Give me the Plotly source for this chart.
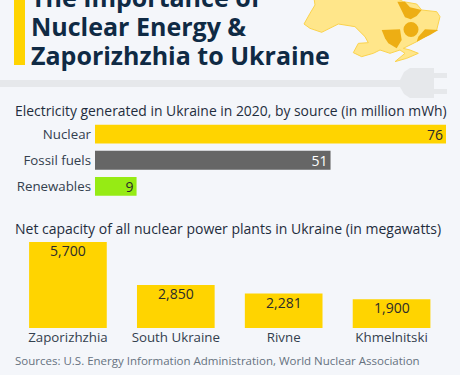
import plotly.graph_objects as go

sources = ["Nuclear", "Fossil fuels", "Renewables"]
source_values = [76, 51, 9]
source_colors = ["#FFD400", "#666666", "#96EB14"]
source_text_colors = ["#2b2b2b", "#ffffff", "#2b2b2b"]
plants = ["Zaporizhzhia", "South Ukraine", "Rivne", "Khmelnitski"]
plant_values = [5700, 2850, 2281, 1900]
plant_labels = ["5,700", "2,850", "2,281", "1,900"]

W, H = 460, 375
BG = "#F4F6FA"
FONT = "Open Sans"
NAVY = "#0F2A44"
TXT = "#33404E"

def px(x): return x / W
def py(y): return 1 - y / H
def path(pts):
    return "M " + " L ".join(f"{px(x):.4f},{py(y):.4f}" for x, y in pts) + " Z"
def z(pts):
    return [(290 + a / 3, b / 3) for a, b in pts]

fig = go.Figure()
fig.add_trace(go.Bar(
    y=sources, x=source_values, orientation="h", xaxis="x", yaxis="y",
    marker=dict(color=source_colors, line_width=0),
    text=[str(v) for v in source_values], textposition="inside", insidetextanchor="end",
    textangle=0, constraintext="none",
    textfont=dict(family=FONT, size=14, color=source_text_colors), width=0.72,
    hoverinfo="skip"))
fig.add_trace(go.Bar(
    x=plants, y=plant_values, xaxis="x2", yaxis="y2",
    marker=dict(color="#FFD400", line_width=0), width=0.72,
    hoverinfo="skip"))

ukraine = z([(72,-5),(75,15),(60,40),(42,72),(60,85),(95,97),(145,72),(195,80),(225,110),(235,128),
             (205,130),(190,158),(215,170),(250,160),(270,150),(300,160),(330,150),(345,160),(315,185),
             (350,175),(385,160),(360,150),(340,145),(380,125),(440,90),(450,50),(440,35),(395,30),
             (380,12),(340,5),(320,-5)])
sec_top = z([(322,5),(345,5),(360,22),(395,30),(380,48),(362,58),(345,52)])
sec_left = z([(275,90),(330,88),(335,120),(320,145),(295,130),(285,115)])
sec_right = z([(380,125),(385,110),(405,88),(445,90),(420,105),(400,115)])

shapes = [
    dict(type="path", path=path(ukraine), fillcolor="#FFE68A", line=dict(color="#FBD34D", width=1)),
    dict(type="path", path=path(sec_top), fillcolor="#EDAE14", line_width=0),
    dict(type="path", path=path(sec_left), fillcolor="#EDAE14", line_width=0),
    dict(type="path", path=path(sec_right), fillcolor="#EDAE14", line_width=0),
    dict(type="circle", x0=px(403.5), x1=px(418.5), y0=py(37), y1=py(22), fillcolor="#EDAE14", line_width=0),
    dict(type="rect", x0=px(14), x1=px(25), y0=py(65), y1=py(-2), fillcolor="#FFD400", line_width=0),
    dict(type="rect", x0=0, x1=px(405), y0=py(87), y1=py(80), fillcolor="#E6E8EB", line_width=0),
    dict(type="path", path=path([(400,80),(404,72),(410,68),(434,68),(434,98),(410,98),(404,94),(400,87)]),
         fillcolor="#E6E8EB", line_width=0),
    dict(type="rect", x0=px(434), x1=px(447), y0=py(78), y1=py(73), fillcolor="#E6E8EB", line_width=0),
    dict(type="rect", x0=px(434), x1=px(447), y0=py(94), y1=py(89), fillcolor="#E6E8EB", line_width=0),
]
for s in shapes:
    s.setdefault("xref", "paper"); s.setdefault("yref", "paper"); s["layer"] = "below"

def label(text, x, y, size, color, weight=400):
    return dict(text=text, x=px(x), y=py(y), xref="paper", yref="paper", xanchor="left", yanchor="middle",
                showarrow=False, align="left", xshift=-2,
                font=dict(family=FONT, size=size, color=color, weight=weight))

annotations = [
    label("The Importance of", 31, -3, 25, NAVY, 700),
    label("Nuclear Energy &", 31, 26, 25, NAVY, 700),
    label("Zaporizhzhia to Ukraine", 31, 55, 25, NAVY, 700),
    label("Electricity generated in Ukraine in 2020, by source (in million mWh)", 15, 110.5, 13.9, "#1F2D3D"),
    label("Net capacity of all nuclear power plants in Ukraine (in megawatts)", 15, 228, 14, "#1F2D3D"),
    label("Sources: U.S. Energy Information Administration, World Nuclear Association", 15, 360.5, 11.5, "#66727F"),
]
for name, val, lab in zip(plants, plant_values, plant_labels):
    annotations.append(dict(text=lab, x=name, y=val, xref="x2", yref="y2", yanchor="top", xanchor="center",
                            showarrow=False, yshift=3, font=dict(family=FONT, size=14, color="#2b2b2b")))

fig.update_layout(
    width=W, height=H, margin=dict(l=0, r=0, t=0, b=0), autosize=False,
    paper_bgcolor=BG, plot_bgcolor="rgba(0,0,0,0)", showlegend=False, shapes=shapes, annotations=annotations,
    font=dict(family=FONT),
    xaxis=dict(domain=[px(95), px(446)], range=[0, 76], visible=False, fixedrange=True),
    yaxis=dict(domain=[py(199.5), py(121)], anchor="x", autorange="reversed", showline=False, ticks="",
               showgrid=False, tickfont=dict(family=FONT, size=13.3, color=TXT), ticklabelstandoff=3),
    xaxis2=dict(domain=[px(14), px(445.5)], anchor="y2", showline=False, ticks="", showgrid=False,
                tickfont=dict(family=FONT, size=13.3, color=TXT), ticklabelstandoff=0),
    yaxis2=dict(domain=[py(328), py(242)], range=[0, 5700], anchor="x2", visible=False),
)
fig.write_html("out.html", config=dict(displayModeBar=False),
               post_script="document.body.style.margin='0';document.body.style.background='%s';" % BG)
